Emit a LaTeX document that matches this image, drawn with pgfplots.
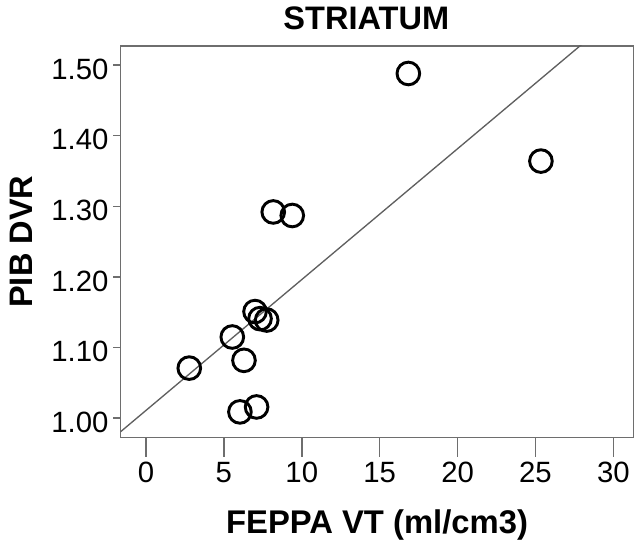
\documentclass[border=0pt]{standalone}
\usepackage{fontspec}
\setmainfont{Liberation Sans}
\usepackage{pgfplots}
\pgfplotsset{compat=1.18}
\definecolor{framegray}{RGB}{110,110,110}
\definecolor{fitgray}{RGB}{95,95,95}

\pgfplotsset{
  frameaxis/.style={
    scale only axis,
    width=384.6pt, height=293.6pt,
    xmin=-1.624, xmax=31.29,
    ymin=0.9728, ymax=1.5269,
    xtick={0,5,10,15,20,25,30},
    tick align=outside,
    xtick pos=bottom, ytick pos=left,
    tick style={framegray, line width=1.2pt},
  },
}

\begin{document}
\begin{tikzpicture}
% long x ticks only
\begin{axis}[
  frameaxis,
  major tick length=14.3pt,
  ytick=\empty,
  xticklabels={},
  axis line style={draw=none},
]
\end{axis}
\begin{axis}[
  frameaxis,
  ytick={1.00,1.10,1.20,1.30,1.40,1.50},
  /pgf/number format/assume math mode=true,
  tick label style={font=\fontsize{22}{26}\selectfont, black},
  yticklabel style={yshift=-3pt, /pgf/number format/.cd, fixed, fixed zerofill, precision=2},
  xticklabel style={anchor=base, inner sep=0pt, yshift=-28.5pt},
  major tick length=5.6pt,
  xtick style={draw=none},
  axis line style={framegray, line width=1.2pt},
  title={STRIATUM},
  title style={font=\fontsize{24.4}{28}\selectfont\bfseries,
    at={(axis description cs:0.479,1.0222)}, anchor=base},
  xlabel={FEPPA VT (ml/cm3)},
  xlabel style={font=\fontsize{24.6}{28}\selectfont\bfseries,
    at={(axis description cs:0.5,-0.2465)}, anchor=base},
  ylabel={PIB DVR},
  ylabel style={font=\fontsize{24.4}{28}\selectfont\bfseries,
    at={(axis description cs:-0.1944,0.5)}, anchor=center},
]
% fit line
\addplot[fitgray, line width=1pt] coordinates {(-1.624,0.9810) (31.29,1.5906)};
% subjects
\addplot[only marks, mark=o, mark size=8.5pt,
  mark options={line width=2.2pt, black}] coordinates {
  (8.17,1.292) (9.39,1.287) (7.00,1.151) (7.32,1.141) (7.75,1.139)
  (5.54,1.115) (6.29,1.082) (2.78,1.071) (6.03,1.009) (7.10,1.016)
  (16.84,1.488) (25.35,1.364)
};
\coordinate (sw) at (rel axis cs:0,0);
\end{axis}
\pgfresetboundingbox
\path (sw) ++(-90.5pt,-76.9pt) rectangle ++(476.25pt,405pt);
\end{tikzpicture}
\end{document}
